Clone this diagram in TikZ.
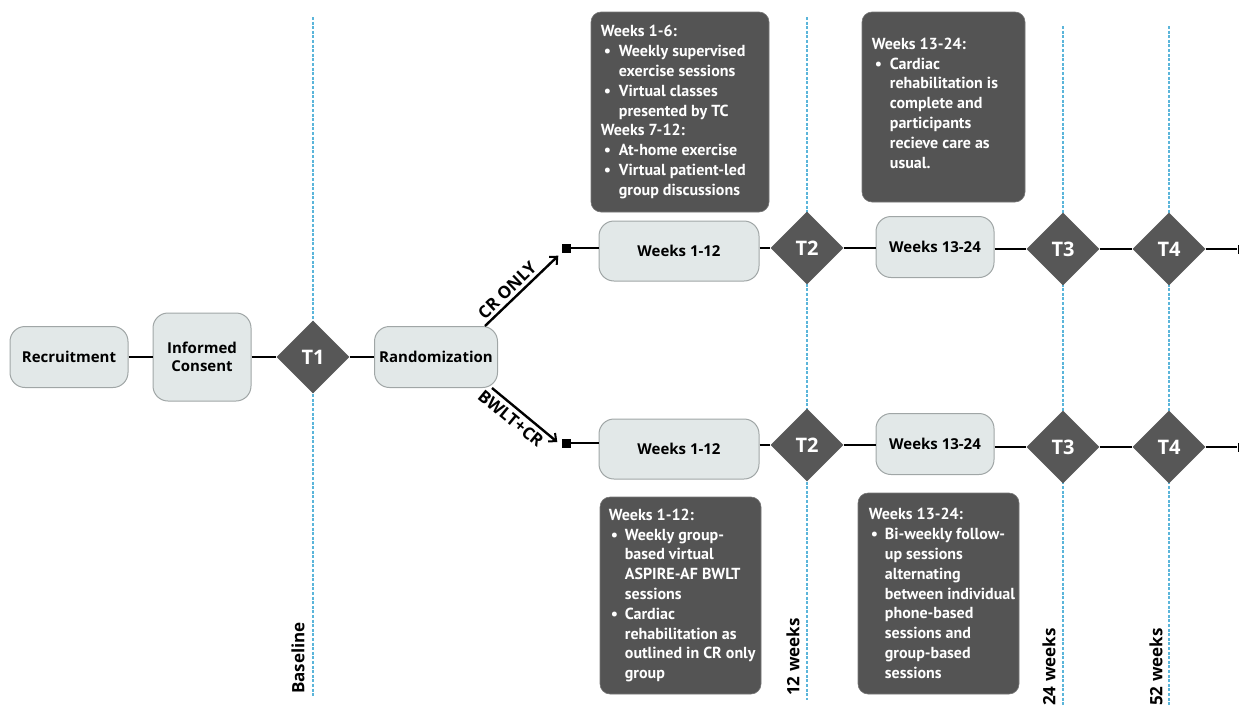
\documentclass[tikz,border=0pt]{standalone}
\usepackage{fontspec}
\setmainfont{Open Sans}
\newfontfamily\infofont{PT Sans}
\usetikzlibrary{shapes.geometric,arrows.meta}
\definecolor{boxfill}{HTML}{E2E8E8}
\definecolor{boxline}{HTML}{A0A6A6}
\definecolor{darkbox}{HTML}{545454}
\definecolor{diagrey}{HTML}{575757}
\definecolor{dashblue}{HTML}{5BB5DA}
\newcommand{\bua}{\makebox[18pt][l]{\hspace{3pt}\textbullet}}
\newcommand{\inda}{\hspace*{18pt}}
\newcommand{\bub}{\makebox[16pt][l]{\hspace{2pt}\textbullet}}
\newcommand{\indb}{\hspace*{16pt}}
\begin{document}
\begin{tikzpicture}[x=1pt,y=-1pt,
  stage/.style={draw=boxline, fill=boxfill, rounded corners=15pt, line width=1pt,
    font=\bfseries\fontsize{15}{18}\selectfont, align=center, inner sep=0pt},
  tp/.style={diamond, fill=diagrey, minimum width=73pt, minimum height=73pt, inner sep=0pt,
    text=white, font=\bfseries\fontsize{20}{22}\selectfont},
  dbox/.style={fill=darkbox, draw=darkbox!80!white, line width=0.6pt, rounded corners=10pt, inner sep=0pt},
  dtext/.style={text=white, align=left, inner sep=0pt, anchor=west,
    font=\infofont\bfseries\fontsize{16}{19.8}\selectfont},
  conn/.style={line width=2.6pt, black},
  connr/.style={line width=2pt, black},
  arr/.style={line width=2.4pt, black, -{Straight Barb[length=6pt,width=11pt,line width=2pt]}},
  sqr/.style={fill=black, minimum size=9pt, inner sep=0pt},
  dashv/.style={dashblue, line width=1.2pt, dash pattern=on 3pt off 1.6pt},
  vlab/.style={rotate=90, font=\bfseries\fontsize{17}{20}\selectfont, inner sep=0pt},
  blab/.style={font=\bfseries\fontsize{17}{20}\selectfont, inner sep=0pt}
]
\useasboundingbox (0,0) rectangle (1239,704);

% dashed time markers
\draw[dashv] (313,17) -- (313,697);
\draw[dashv] (807,17) -- (807,700);
\draw[dashv] (1063,26) -- (1063,706);
\draw[dashv] (1169,26) -- (1169,706);

\node[vlab] (lbase) at (298,658) {Baseline};
\node[vlab] (l12) at (793,657) {12 weeks};
\node[vlab] (l24) at (1049,667) {24 weeks};
\node[vlab] (l52) at (1156,667) {52 weeks};

% left row
\node[stage, minimum width=118pt, minimum height=61pt] (rec) at (69,357) {Recruitment};
\node[stage, minimum width=98pt, minimum height=88pt] (ic) at (202,357) {Informed\\Consent};
\node[tp] (t1) at (313,357) {T1};
\node[stage, minimum width=123pt, minimum height=61pt] (rand) at (436,357) {Randomization};

\draw[conn] (rec) -- (ic);
\draw[conn] (ic) -- (t1);
\draw[conn] (t1) -- (rand);

% branches
\coordinate (cs) at (485,326);
\coordinate (bs) at (492,388);
\node[sqr] (sq1) at (566,248) {};
\node[sqr] (sq2) at (566,443) {};
\draw[arr] (cs) -- node[sloped, above=3pt, pos=0.4, blab] (lcr) {CR ONLY} ([shift={(-3,3)}]sq1.south west);
\draw[arr] (bs) -- node[sloped, below=4pt, pos=0.4, blab] (lbw) {BWLT+CR} ([shift={(-4,-1)}]sq2.west);

% top row
\node[stage, minimum width=160pt, minimum height=60pt] (w1a) at (679,251) {Weeks 1-12};
\node[tp] (t2a) at (807,248) {T2};
\node[stage, minimum width=118pt, minimum height=61pt] (w13a) at (935,247) {Weeks 13-24};
\node[tp] (t3a) at (1063,249) {T3};
\node[tp] (t4a) at (1169,249) {T4};
\node[sqr] (e1) at (1242,249) {};
\draw[connr] (sq1) -- (sq1 -| w1a.west);
\draw[connr] (w1a.east |- t2a) -- (t2a);
\draw[connr] (t2a) -- (t2a -| w13a.west);
\draw[connr] (w13a.east |- t3a) -- (t3a);
\draw[connr] (t3a) -- (t4a);
\draw[connr] (t4a) -- (e1);

% bottom row
\node[stage, minimum width=160pt, minimum height=60pt] (w1b) at (679,449) {Weeks 1-12};
\node[tp] (t2b) at (807,445) {T2};
\node[stage, minimum width=118pt, minimum height=61pt] (w13b) at (935,444) {Weeks 13-24};
\node[tp] (t3b) at (1063,447) {T3};
\node[tp] (t4b) at (1169,447) {T4};
\node[sqr] (e2) at (1242,447) {};
\draw[connr] (sq2) -- (sq2 -| w1b.west);
\draw[connr] (w1b.east |- t2b) -- (t2b);
\draw[connr] (t2b) -- (t2b -| w13b.west);
\draw[connr] (w13b.east |- t3b) -- (t3b);
\draw[connr] (t3b) -- (t4b);
\draw[connr] (t4b) -- (e2);

% info boxes
\node[dbox, minimum width=178pt, minimum height=200pt] (i1) at (680,112) {};
\node[dtext] (i1t) at ([xshift=10pt]i1.west) {Weeks 1-6:\\
\bua Weekly supervised\\ \inda exercise sessions\\
\bua Virtual classes\\ \inda presented by TC\\
Weeks 7-12:\\
\bua At-home exercise\\
\bua Virtual patient-led\\ \inda group discussions};

\node[dbox, minimum width=163pt, minimum height=190pt] (i2) at (943.5,107) {};
\node[dtext] (i2t) at ([xshift=10pt,yshift=4pt]i2.west) {Weeks 13-24:\\
\bua Cardiac\\ \inda rehabilitation is\\ \inda complete and\\ \inda participants\\ \inda recieve care as\\ \inda usual.};

\node[dbox, minimum width=161pt, minimum height=197pt] (i3) at (680.5,595.5) {};
\node[dtext] (i3t) at ([xshift=9pt]i3.west) {Weeks 1-12:\\
\bub Weekly group-\\ \indb based virtual\\ \indb ASPIRE-AF BWLT\\ \indb sessions\\
\bub Cardiac\\ \indb rehabilitation as\\ \indb outlined in CR only\\ \indb group};

\node[dbox, minimum width=161pt, minimum height=201pt] (i4) at (938.5,593.5) {};
\node[dtext] (i4t) at ([xshift=11pt]i4.west) {Weeks 13-24:\\
\bub Bi-weekly follow-\\ \indb up sessions\\ \indb alternating\\ \indb between individual\\ \indb phone-based\\ \indb sessions and\\ \indb group-based\\ \indb sessions};
\end{tikzpicture}
\end{document}
